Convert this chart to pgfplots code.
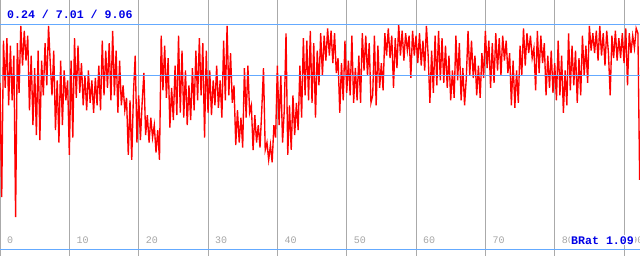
\documentclass[border=0pt]{standalone}
\usepackage{pgfplots}
\pgfplotsset{compat=1.18}
\usepackage{fontspec}
\setmonofont{Liberation Mono}
\definecolor{gridgray}{RGB}{170,170,170}
\definecolor{lblgray}{RGB}{165,165,165}
\definecolor{reflblue}{RGB}{100,170,255}
\definecolor{txtblue}{RGB}{0,0,230}
\begin{document}
\begin{tikzpicture}
\begin{axis}[at={(0,0)},anchor=south west,
  width=640bp,height=256bp,scale only axis,
  xmin=0,xmax=92.3,ymin=-0.27,ymax=10.04,
  axis line style={draw=none},
  xtick={0,10,20,30,40,50,60,70,80,90}, ytick=\empty,
  xticklabels={},
  tick style={draw=none},
  xmajorgrids, grid style={gridgray, line width=1bp},
  clip=true]
\addplot[red, line width=1.35bp, mark=none] table[row sep=\\, x expr=\coordindex*0.25, y=y] {
y\\
6.7\\ 2.1\\ 8.4\\ 6.5\\ 8.5\\ 5.8\\ 8.2\\ 6.0\\ 7.8\\ 1.3\\
8.3\\ 6.3\\ 9.0\\ 7.4\\ 8.8\\ 7.6\\ 8.6\\ 5.6\\ 7.8\\ 5.0\\
7.3\\ 4.6\\ 8.0\\ 4.4\\ 7.6\\ 6.2\\ 8.3\\ 6.6\\ 9.0\\ 7.5\\
6.2\\ 8.0\\ 4.8\\ 6.8\\ 4.3\\ 7.6\\ 5.0\\ 7.2\\ 6.0\\ 6.8\\
3.8\\ 7.6\\ 4.5\\ 8.5\\ 6.1\\ 8.2\\ 6.3\\ 7.5\\ 5.8\\ 7.0\\
5.6\\ 7.2\\ 5.9\\ 6.8\\ 5.5\\ 6.9\\ 5.8\\ 7.4\\ 5.6\\ 8.4\\
6.2\\ 8.0\\ 6.5\\ 8.3\\ 6.0\\ 8.8\\ 6.2\\ 8.0\\ 5.5\\ 7.6\\
5.8\\ 6.6\\ 5.6\\ 6.1\\ 3.8\\ 6.0\\ 3.6\\ 6.3\\ 7.8\\ 4.3\\
6.2\\ 4.4\\ 5.9\\ 7.1\\ 4.6\\ 5.4\\ 4.3\\ 5.3\\ 4.5\\ 5.0\\
3.9\\ 4.8\\ 3.6\\ 8.6\\ 6.4\\ 8.2\\ 6.1\\ 7.7\\ 4.9\\ 6.5\\
5.2\\ 7.4\\ 5.4\\ 8.6\\ 5.5\\ 8.0\\ 5.3\\ 7.2\\ 5.0\\ 6.6\\
5.2\\ 7.3\\ 5.6\\ 8.0\\ 6.0\\ 8.5\\ 6.2\\ 8.3\\ 4.5\\ 8.0\\
5.5\\ 7.2\\ 5.4\\ 6.8\\ 5.8\\ 7.4\\ 5.7\\ 6.8\\ 5.3\\ 8.4\\
6.0\\ 9.0\\ 6.2\\ 7.9\\ 5.9\\ 6.6\\ 4.2\\ 5.6\\ 4.3\\ 5.3\\
4.1\\ 7.3\\ 5.3\\ 7.4\\ 5.5\\ 5.8\\ 4.0\\ 5.4\\ 4.3\\ 5.0\\
4.1\\ 5.6\\ 7.3\\ 4.0\\ 4.3\\ 3.6\\ 4.2\\ 3.5\\ 5.0\\ 4.5\\
7.4\\ 5.0\\ 7.0\\ 4.3\\ 5.6\\ 8.7\\ 3.8\\ 5.8\\ 4.0\\ 6.2\\
4.6\\ 5.9\\ 4.8\\ 7.4\\ 5.3\\ 8.5\\ 6.2\\ 8.4\\ 6.0\\ 8.8\\
5.9\\ 8.3\\ 5.3\\ 8.0\\ 6.6\\ 8.7\\ 7.0\\ 8.6\\ 7.6\\ 8.9\\
7.8\\ 8.8\\ 7.5\\ 8.7\\ 7.1\\ 7.7\\ 5.5\\ 7.5\\ 6.0\\ 8.4\\
6.3\\ 7.6\\ 6.2\\ 8.6\\ 5.9\\ 7.3\\ 6.0\\ 7.8\\ 5.9\\ 8.7\\
7.2\\ 8.6\\ 7.0\\ 8.3\\ 5.9\\ 6.2\\ 8.6\\ 5.8\\ 8.2\\ 6.5\\
7.5\\ 6.4\\ 8.7\\ 7.8\\ 8.9\\ 7.7\\ 8.6\\ 6.5\\ 8.5\\ 7.3\\
9.06\\ 7.8\\ 8.8\\ 7.6\\ 8.7\\ 8.0\\ 8.6\\ 6.9\\ 8.8\\ 7.8\\
8.6\\ 7.5\\ 8.7\\ 7.4\\ 8.4\\ 7.2\\ 9.0\\ 7.8\\ 5.9\\ 8.0\\
6.3\\ 8.6\\ 6.6\\ 8.8\\ 6.8\\ 8.5\\ 6.7\\ 8.2\\ 6.5\\ 7.8\\
6.0\\ 7.2\\ 6.1\\ 8.6\\ 6.8\\ 8.3\\ 6.0\\ 7.3\\ 5.8\\ 6.9\\
8.8\\ 7.0\\ 8.4\\ 6.9\\ 7.8\\ 6.2\\ 7.4\\ 6.1\\ 7.9\\ 6.9\\
8.8\\ 7.3\\ 8.4\\ 6.5\\ 8.3\\ 6.7\\ 8.7\\ 7.2\\ 8.5\\ 7.0\\
8.6\\ 7.6\\ 8.4\\ 7.1\\ 7.9\\ 5.8\\ 7.6\\ 5.7\\ 7.2\\ 5.9\\
8.2\\ 7.0\\ 8.9\\ 7.4\\ 8.7\\ 7.9\\ 8.6\\ 7.7\\ 8.1\\ 6.4\\
8.8\\ 7.1\\ 8.6\\ 7.5\\ 8.3\\ 6.2\\ 7.8\\ 6.5\\ 8.0\\ 6.3\\
7.5\\ 6.0\\ 8.4\\ 6.2\\ 7.8\\ 5.5\\ 7.2\\ 5.8\\ 8.7\\ 6.4\\
8.2\\ 6.6\\ 8.0\\ 5.9\\ 7.7\\ 6.2\\ 8.6\\ 7.0\\ 8.2\\ 6.7\\
9.0\\ 8.0\\ 8.7\\ 7.9\\ 8.8\\ 7.6\\ 9.0\\ 7.8\\ 8.7\\ 7.4\\
8.8\\ 7.9\\ 6.2\\ 8.6\\ 7.7\\ 8.8\\ 7.6\\ 8.5\\ 7.7\\ 8.7\\
7.5\\ 8.9\\ 6.6\\ 8.7\\ 7.9\\ 8.6\\ 8.1\\ 8.9\\ 8.7\\ 2.8\\
};
\addplot[reflblue, line width=1bp, mark=none] coordinates {(0,0) (92.3,0)};
\addplot[reflblue, line width=1bp, mark=none] coordinates {(0,7.01) (92.3,7.01)};
\addplot[reflblue, line width=1bp, mark=none] coordinates {(0,9.06) (92.3,9.06)};
\pgfplotsinvokeforeach{0,10,20,30,40,50,60,70,80,90}{
  \node[anchor=base west, inner sep=0pt, xshift=7bp, yshift=5.3bp,
        font=\ttfamily\fontsize{10bp}{12bp}\selectfont, text=lblgray]
        at (axis cs:#1,0) {#1};
}
\node[anchor=base west, inner sep=0pt, xshift=7bp, yshift=-19bp,
      font=\ttfamily\bfseries\fontsize{11.6bp}{14bp}\selectfont, text=txtblue]
      at (rel axis cs:0,1) {0.24 / 7.01 / 9.06};
\node[anchor=base west, fill=white, inner sep=1bp, xshift=570bp, yshift=12bp,
      font=\ttfamily\bfseries\fontsize{11.6bp}{14bp}\selectfont, text=txtblue]
      at (rel axis cs:0,0) {BRat 1.09};
\end{axis}
\pgfresetboundingbox
\useasboundingbox (0,0) rectangle (640bp,256bp);
\end{tikzpicture}
\end{document}
